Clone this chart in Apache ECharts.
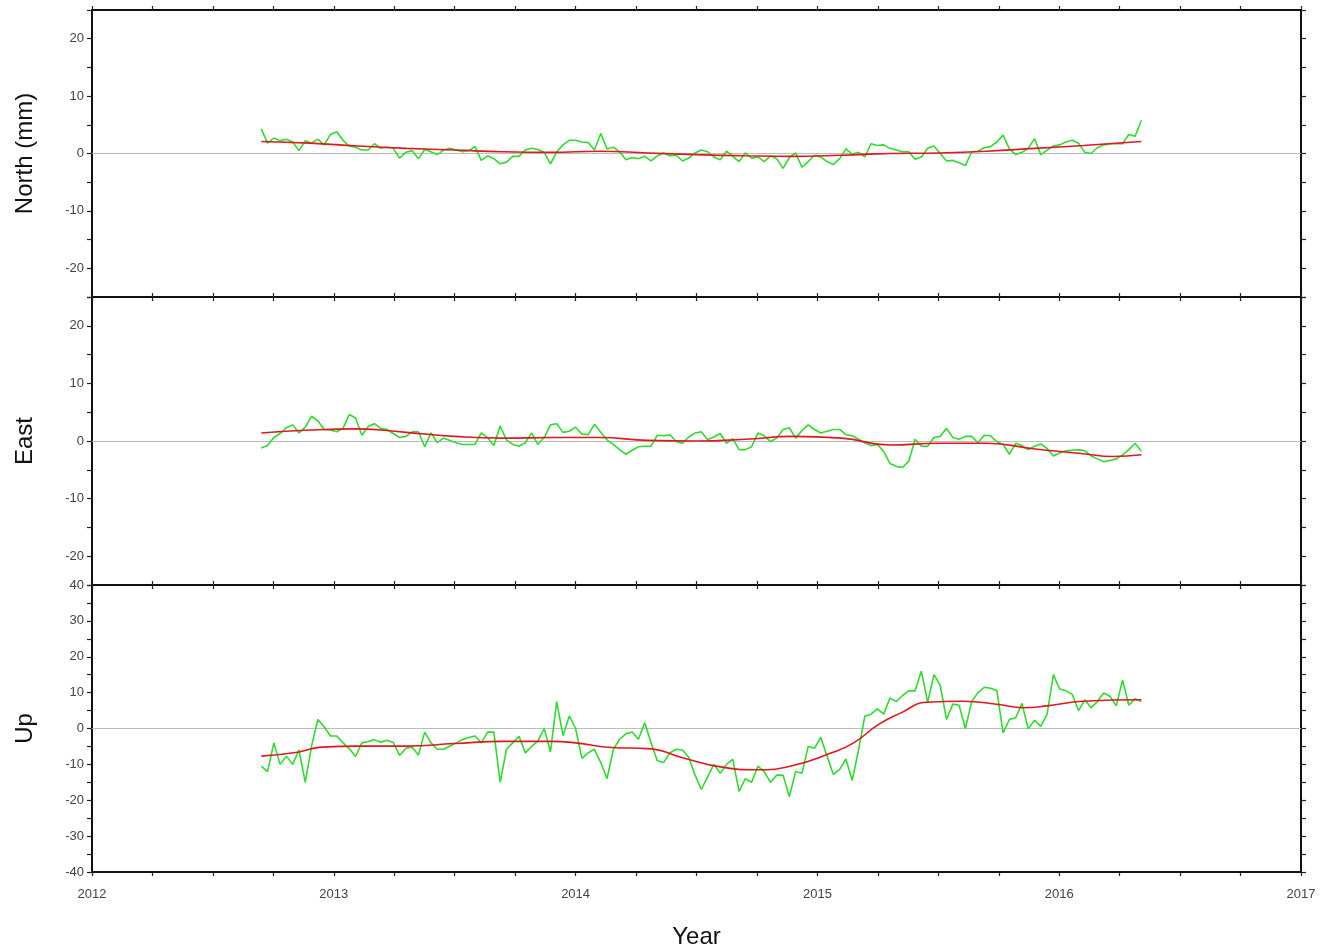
<!DOCTYPE html>
<html>
<head>
<meta charset="utf-8">
<script src="https://cdn.jsdelivr.net/npm/echarts@6/dist/echarts.min.js"></script>
<style>
html,body{margin:0;padding:0;background:#fff;}
#chart{width:1320px;height:950px;}
</style>
</head>
<body>
<div id="chart"></div>
<script>
// Sampling of the weekly-ish GPS solutions (decimal year)
const startYear = 2012.70;
const stepYear = 0.026;

// Residual positions (mm), green lines
const northValues = [4.3,1.8,2.7,2.2,2.5,2.0,0.5,2.2,1.8,2.5,
  1.5,3.3,3.8,2.3,1.3,1.1,0.6,0.6,1.7,0.9,
  1.1,0.9,-0.8,0.2,0.5,-0.9,0.7,0.3,-0.2,0.6,
  0.9,0.6,0.3,0.5,1.2,-1.2,-0.4,-0.9,-1.8,-1.5,
  -0.5,-0.5,0.6,0.9,0.7,0.2,
  -1.8,0.3,1.5,2.3,2.3,2.0,1.9,0.6,3.5,0.8,
  1.1,0.3,-1.1,-0.7,-0.9,-0.5,-1.3,-0.4,0.1,-0.4,
  -0.3,-1.3,-0.8,0.1,0.6,0.3,-0.6,-1.1,0.4,-0.5,
  -1.4,0.1,-0.8,-0.6,-1.4,-0.4,-0.9,-2.6,-0.7,0.1,
  -2.4,-1.4,-0.3,-0.6,-1.4,-1.9,-0.9,0.8,
  -0.1,0.2,-0.6,1.7,1.4,1.5,0.9,0.6,0.3,0.3,
  -1.0,-0.6,0.9,1.3,0.0,-1.3,-1.2,-1.6,-2.1,0.3,
  0.4,1.0,1.2,2.0,3.2,0.8,-0.2,0.2,0.9,2.6,
  -0.2,0.6,1.3,1.5,2.0,2.3,1.8,0.2,0.0,1.0,
  1.5,1.7,1.7,1.7,3.3,3.0,5.8];

const eastValues = [-1.2,-0.8,0.6,1.3,2.3,2.8,1.4,2.4,4.3,3.5,
  2.0,1.9,1.6,2.2,4.6,4.0,1.0,2.5,3.0,2.2,
  2.0,1.3,0.6,0.8,1.6,1.6,-1.0,1.4,-0.3,0.5,
  0.1,-0.3,-0.6,-0.6,-0.6,1.4,0.6,-0.8,2.6,0.2,
  -0.6,-0.9,-0.3,1.4,-0.6,0.6,
  2.8,3.0,1.5,1.7,2.4,1.2,1.1,2.9,1.5,0.2,
  -0.6,-1.5,-2.3,-1.6,-1.0,-0.9,-0.9,1.0,0.9,1.1,
  -0.1,-0.4,0.7,1.4,1.6,0.2,0.7,1.3,-0.4,0.4,
  -1.5,-1.5,-1.0,1.4,0.9,-0.1,0.5,2.0,2.3,0.5,
  1.8,2.8,2.0,1.4,1.7,2.0,2.0,1.1,
  0.9,0.3,-0.3,-0.8,-0.6,-1.8,-3.9,-4.4,-4.6,-3.5,
  0.3,-0.9,-0.9,0.6,0.8,2.2,0.6,0.3,0.8,0.8,
  -0.3,1.0,0.9,-0.1,-0.6,-2.3,-0.4,-0.8,-1.5,-0.9,
  -0.5,-1.3,-2.6,-2.1,-1.7,-1.6,-1.5,-1.7,-2.6,-3.1,
  -3.6,-3.4,-3.1,-2.4,-1.5,-0.4,-1.8];

const upValues = [-10.5,-12,-4,-10,-7.7,-10,-6,-15,-4.9,2.5,
  0.5,-2.1,-2.1,-4.0,-5.6,-7.8,-4,-3.6,-3.1,-3.8,
  -3.3,-3.9,-7.5,-5.5,-5.2,-7.4,-1,-4,-5.8,-5.8,
  -4.9,-4,-3.1,-2.5,-2.1,-4,-1,-1,-15,-5.8,
  -4,-2.2,-6.8,-5,-3.5,0,
  -6.5,7.5,-2,3.5,0,-8.3,-6.8,-5.8,-9.5,-14,
  -5.8,-3,-1.5,-1,-3,1.6,-4,-9,-9.5,-6.8,
  -5.8,-6,-8,-13,-17,-13.5,-10,-12.5,-10,-8.6,
  -17.5,-14,-15,-10.5,-12,-15,-13,-13,-19,-12,
  -12.5,-5,-5.5,-2.5,-7.7,-12.8,-11.4,-8.5,
  -14.5,-6,3.4,4,5.5,4,8.5,7.5,9.2,10.5,
  10.5,16,7.3,15,12,2.5,6.8,6.5,0,7.5,
  10,11.5,11.2,10.6,-1.2,2.5,3,7,-0.1,2.3,
  0.6,4,15,11,10.5,9.5,5,8,5.8,7.5,
  9.9,9,6.3,13.5,6.5,8.3,7.5];

// Smoothed model curves (red lines)
const northFitYears = [2012.70,2012.9,2013.1,2013.3,2013.5,2013.7,2013.9,2014.1,2014.3,2014.5,2014.7,2014.9,2015.1,2015.3,2015.5,2015.7,2015.9,2016.1,2016.34];
const northFit = [2.1,1.8,1.3,0.9,0.6,0.3,0.2,0.4,0.1,-0.2,-0.4,-0.5,-0.3,0.0,0.1,0.4,0.9,1.4,2.1];

const eastFitYears = [2012.70,2012.9,2013.1,2013.3,2013.5,2013.7,2013.9,2014.1,2014.3,2014.5,2014.7,2014.9,2015.1,2015.3,2015.5,2015.7,2015.9,2016.1,2016.22,2016.34];
const eastFit = [1.4,1.9,2.1,1.5,0.8,0.5,0.6,0.6,0.1,0.0,0.3,0.8,0.5,-0.7,-0.4,-0.4,-1.4,-2.2,-2.7,-2.4];

const upFitYears = [2012.70,2012.85,2012.95,2013.1,2013.3,2013.5,2013.7,2013.9,2014.0,2014.15,2014.3,2014.45,2014.6,2014.75,2014.9,2015.05,2015.15,2015.25,2015.35,2015.45,2015.6,2015.75,2015.85,2015.95,2016.1,2016.34];
const upFit = [-7.7,-6.6,-5.2,-4.9,-4.9,-4.2,-3.6,-3.6,-4.0,-5.3,-5.6,-8.3,-10.7,-11.5,-10.3,-7.0,-4.0,1.0,4.5,7.3,7.6,6.7,5.8,6.3,7.6,8.0];

const panelNames = ['North (mm)', 'East', 'Up'];
const yRanges = [[-25, 25], [-25, 25], [-40, 40]];
const xTickYears = [2012, 2013, 2014, 2015, 2016, 2017];

const greenSets = [northValues, eastValues, upValues];
const fitSets = [[northFitYears, northFit], [eastFitYears, eastFit], [upFitYears, upFit]];

const FONT = 'Liberation Sans, Arial, sans-serif';
const chart = echarts.init(document.getElementById('chart'), null, {renderer: 'canvas'});

const tops = [10, 297, 585];
const heights = [287, 288, 288];
const grids = [], xAxes = [], yAxes = [], series = [];

for (let g = 0; g < 3; g++) {
  grids.push({left: 92, right: 19, top: tops[g], height: heights[g], show: true,
    borderColor: '#111', borderWidth: 2, backgroundColor: 'transparent'});
  const tickStyle = {color: '#222', width: 1.2};
  xAxes.push({type: 'value', gridIndex: g, position: 'bottom', min: 2012, max: 2017, interval: 0.25,
    axisLine: {show: false, onZero: false}, splitLine: {show: false},
    axisTick: {show: true, length: 4, lineStyle: tickStyle},
    axisLabel: {show: g === 2, margin: 16, fontFamily: FONT, fontSize: 13, color: '#444',
      formatter: v => (Math.abs(v - Math.round(v)) < 1e-6 && xTickYears.includes(Math.round(v))) ? String(Math.round(v)) : ''},
    name: g === 2 ? 'Year' : '', nameLocation: 'middle', nameGap: 53,
    nameTextStyle: {fontFamily: FONT, fontSize: 24, color: '#111'}});
  xAxes.push({type: 'value', gridIndex: g, position: 'top', min: 2012, max: 2017, interval: 0.25,
    axisLine: {show: false, onZero: false}, splitLine: {show: false},
    axisTick: {show: true, length: 4, lineStyle: tickStyle}, axisLabel: {show: false}});
  yAxes.push({type: 'value', gridIndex: g, position: 'left', min: yRanges[g][0], max: yRanges[g][1], interval: 5,
    axisLine: {show: false, onZero: false}, splitLine: {show: false},
    axisTick: {show: true, length: 5, lineStyle: tickStyle},
    axisLabel: {margin: 8, fontFamily: FONT, fontSize: 13, color: '#444',
      formatter: v => {
        if (v % 10 !== 0) return '';
        if (g < 2 && Math.abs(v) >= 25) return '';
        return String(v);
      }},
    name: panelNames[g], nameLocation: 'middle', nameGap: 55,
    nameTextStyle: {fontFamily: FONT, fontSize: 24, color: '#111'}});
  yAxes.push({type: 'value', gridIndex: g, position: 'right', min: yRanges[g][0], max: yRanges[g][1], interval: 5,
    axisLine: {show: false, onZero: false}, splitLine: {show: false},
    axisTick: {show: true, length: 5, lineStyle: tickStyle}, axisLabel: {show: false}});

  const vals = greenSets[g];
  const greenData = vals.map((v, i) => [startYear + stepYear * i, v]);
  series.push({type: 'line', xAxisIndex: 2 * g, yAxisIndex: 2 * g, data: greenData,
    showSymbol: false, symbol: 'none', silent: true, z: 3,
    lineStyle: {color: '#2edc2e', width: 1.6},
    markLine: {silent: true, symbol: 'none', label: {show: false},
      lineStyle: {color: '#bdbdbd', width: 1.2, type: 'solid'}, data: [{yAxis: 0}], z: 1}});
  const fy = fitSets[g][0], fv = fitSets[g][1];
  series.push({type: 'line', xAxisIndex: 2 * g, yAxisIndex: 2 * g,
    data: fy.map((t, i) => [t, fv[i]]), smooth: 0.5,
    showSymbol: false, symbol: 'none', silent: true, z: 4,
    lineStyle: {color: '#e3181c', width: 1.6}});
}

chart.setOption({
  animation: false,
  backgroundColor: '#fff',
  grid: grids, xAxis: xAxes, yAxis: yAxes, series: series
});
</script>
</body>
</html>
